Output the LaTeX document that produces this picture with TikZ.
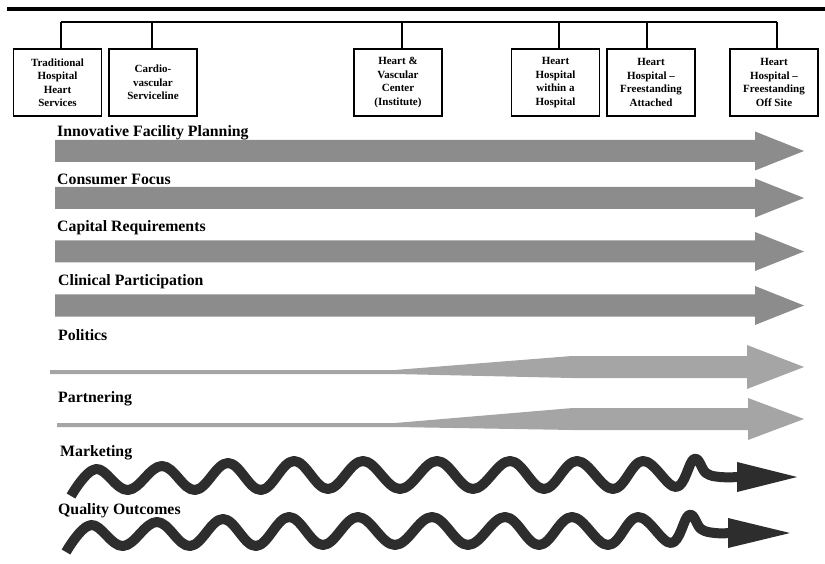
\documentclass[tikz,border=0pt]{standalone}
\usepackage{fontspec}
\setmainfont{Liberation Serif}
\definecolor{arrgray}{RGB}{140,140,140}
\definecolor{litegray}{RGB}{165,165,165}
\definecolor{wavecol}{RGB}{45,45,45}
\begin{document}
\begin{tikzpicture}[x=1pt,y=-1pt,
  box/.style={draw, line width=1.8pt, minimum width=88pt, minimum height=67pt, align=center, inner sep=1pt, font=\fontsize{11}{13.5}\selectfont\bfseries},
  lbl/.style={anchor=base west, inner sep=0pt, font=\fontsize{15.8}{18}\selectfont\bfseries},
  tick/.style={line width=1.6pt},
  wave/.style={line width=10pt, draw=wavecol, line cap=butt, line join=round},
  wavehead/.style={fill=wavecol},
]
\useasboundingbox (0,0) rectangle (825,564);
% top rule
\draw[line width=4pt] (7,9) -- (825,9);
\coordinate (bar) at (0,22);
% boxes
\node[box] (b1) at (57.5,82.5) {Traditional\\Hospital\\Heart\\Services};
\node[box] (b2) at (153,82.5) {Cardio-\\vascular\\Serviceline};
\node[box] (b3) at (398,82.5) {Heart \&\\Vascular\\Center\\(Institute)};
\node[box] (b4) at (555.5,82.5) {Heart\\Hospital\\within a\\Hospital};
\node[box] (b5) at (651,82.5) {Heart\\Hospital --\\Freestanding\\Attached};
\node[box] (b6) at (774,82.5) {Heart\\Hospital --\\Freestanding\\Off Site};
% bracket
\draw[tick] ([xshift=3.5pt]b1.north |- bar) -- ([xshift=3pt]b6.north |- bar);
\draw[tick] ([xshift=3.5pt]b1.north) -- ([xshift=3.5pt]b1.north |- bar);
\draw[tick] ([xshift=-1pt]b2.north) -- ([xshift=-1pt]b2.north |- bar);
\draw[tick] ([xshift=4pt]b3.north) -- ([xshift=4pt]b3.north |- bar);
\draw[tick] ([xshift=3.5pt]b4.north) -- ([xshift=3.5pt]b4.north |- bar);
\draw[tick] ([xshift=-4pt]b5.north) -- ([xshift=-4pt]b5.north |- bar);
\draw[tick] ([xshift=3pt]b6.north) -- ([xshift=3pt]b6.north |- bar);
% broad arrows
\foreach \c in {151,198,251.5,305.5}{
  \fill[arrgray] (55,\c-11) -- (755,\c-11) -- (755,\c-19.5) -- (804,\c) -- (755,\c+19.5) -- (755,\c+11) -- (55,\c+11) -- cycle;
}
% tapered arrows
\fill[litegray] (50,370) -- (395,370) -- (572,356) -- (747,356) -- (747,345) -- (804,367) -- (747,389) -- (747,378) -- (572,378) -- (395,374) -- (50,374) -- cycle;
\fill[litegray] (57,423) -- (395,423) -- (573,408) -- (748,408) -- (748,398) -- (804,419) -- (748,440) -- (748,430) -- (573,430) -- (395,427) -- (57,427) -- cycle;
% wavy arrows
\draw[wave] plot[smooth, tension=0.65] coordinates {(71,496) (96,469) (128,490) (162,466) (195,490) (228,463) (261,490) (294,461) (328,489) (363,461) (400,489) (437,461) (473,489) (510,461) (544,489) (577,461) (613,489) (643,461) (676,487) (694,459) (706,473) (720,477) (740,477)};
\fill[wavehead] (737,462) -- (797,477) -- (737,492) -- cycle;
\begin{scope}[shift={(-5,56)}]
\draw[wave] plot[smooth, tension=0.65] coordinates {(71,496) (96,469) (128,490) (162,466) (195,490) (228,463) (261,490) (294,461) (328,489) (363,461) (400,489) (437,461) (473,489) (510,461) (544,489) (577,461) (613,489) (643,461) (676,487) (694,459) (706,473) (720,477) (736,477)};
\end{scope}
\fill[wavehead] (728,518) -- (790,533) -- (728,548) -- cycle;
% labels
\node[lbl] (l1) at (57,137) {Innovative Facility Planning};
\node[lbl] (l2) at (57,185) {Consumer Focus};
\node[lbl] (l3) at (57,232) {Capital Requirements};
\node[lbl] (l4) at (58,286) {Clinical Participation};
\node[lbl] (l5) at (58,340) {Politics};
\node[lbl] (l6) at (58,402) {Partnering};
\node[lbl] (l7) at (60,456) {Marketing};
\node[lbl] (l8) at (58,514) {Quality Outcomes};
\end{tikzpicture}
\end{document}
